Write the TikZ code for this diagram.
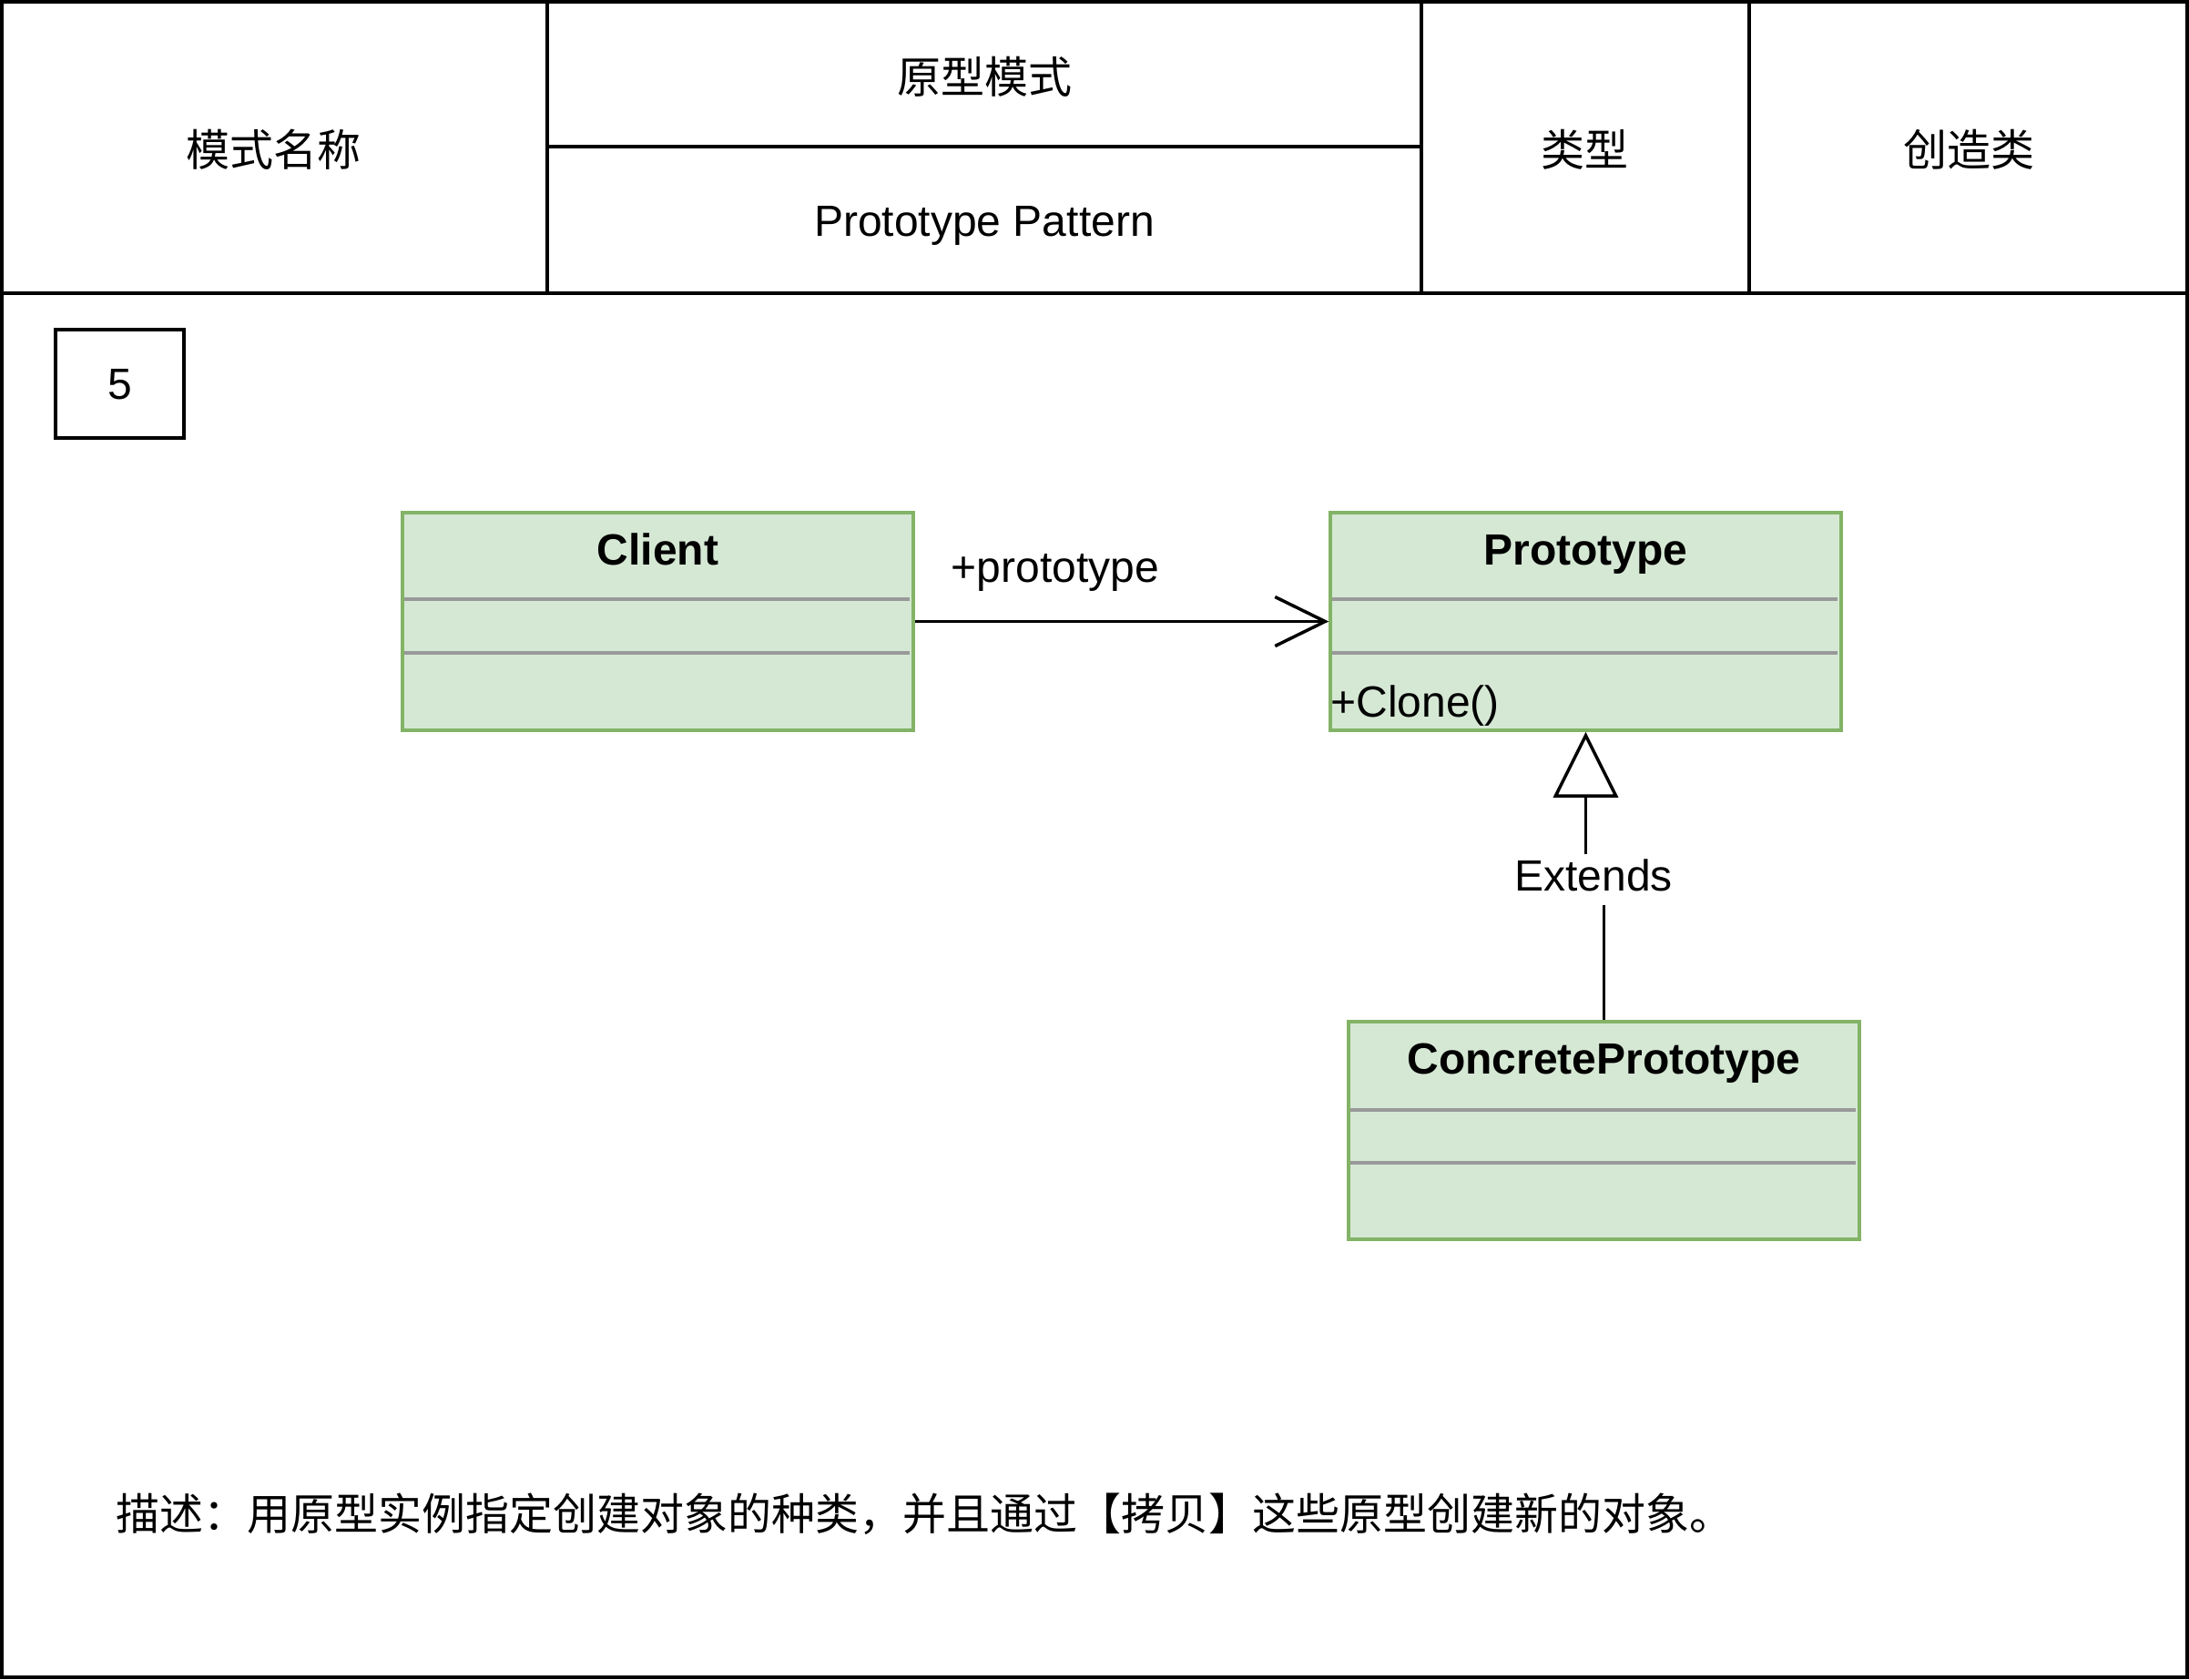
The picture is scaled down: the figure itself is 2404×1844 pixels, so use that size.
\documentclass[tikz,border=0pt]{standalone}
\usepackage{fontspec}
\setmainfont{Liberation Sans}
\newfontfamily\cjk{Noto Sans CJK SC}
\usetikzlibrary{arrows.meta}
\definecolor{clsfill}{HTML}{D5E8D4}
\definecolor{clsline}{HTML}{82B366}
\definecolor{divline}{HTML}{999999}
\begin{document}
\begin{tikzpicture}[x=0.5pt,y=-0.5pt,
  every node/.style={font=\fontsize{24}{28}\selectfont, inner sep=0pt},
  lat/.style={text height=17pt, text depth=5pt},
  cjktext/.style={font=\fontsize{24}{28}\selectfont\cjk},
  boldtext/.style={font=\fontsize{24}{28}\selectfont\bfseries, text height=17pt, text depth=5pt},
  classbox/.style={draw=clsline, fill=clsfill, line width=1.75pt, minimum width=280.5pt, minimum height=119.5pt},
  divider/.style={draw=divline, line width=1.75pt},
  frame/.style={line width=2pt},
  conn/.style={line width=1.75pt},
  ]
\useasboundingbox (0,0) rectangle (2404,1844);
% outer frame and header
\draw[frame] (2,2) rectangle (2402,1842);
\draw[frame] (0,322) -- (2404,322);
\draw[frame] (601,0) -- (601,322);
\draw[frame] (1561,0) -- (1561,322);
\draw[frame] (1921,0) -- (1921,322);
\draw[frame] (601,161) -- (1561,161);
\node[cjktext] (hname) at (300,164) {模式名称};
\node[cjktext] (hcn) at (1081,84) {原型模式};
\node[lat] (hen) at (1081,247) {Prototype Pattern};
\node[cjktext] (htype) at (1740,164) {类型};
\node[cjktext] (hkind) at (2162,164) {创造类};
% number box
\node[draw, line width=2pt, minimum width=70.5pt, minimum height=59.5pt] (num) at (131.5,421.5) {};
\node[lat] (numtext) at (131.5,426) {5};
% Client
\node[classbox] (client) at (722.5,682.5) {};
\node[boldtext] (clientname) at (722.5,608) {Client};
\draw[divider] (444,658) -- (999,658);
\draw[divider] (444,717) -- (999,717);
% Prototype
\node[classbox] (proto) at (1741.5,682.5) {};
\node[boldtext] (protoname) at (1741.5,608) {Prototype};
\draw[divider] (1463,658) -- (2018,658);
\draw[divider] (1463,717) -- (2018,717);
\node[lat, anchor=west] (clone) at (1461,775) {+Clone()};
% ConcretePrototype
\node[classbox] (concrete) at (1761.5,1241.5) {};
\node[boldtext] (concretename) at (1761.5,1167) {ConcretePrototype};
\draw[divider] (1483,1219) -- (2038,1219);
\draw[divider] (1483,1277) -- (2038,1277);
% association
\draw[conn, -{Straight Barb[length=27.5pt,width=27pt]}] (client.east) -- (proto.west);
\node[lat] (assoclabel) at (1159,627) {+prototype};
% generalization
\coordinate (jog) at (0,964);
\draw[conn, -{Triangle[open,length=36pt,width=35.5pt,fill=white]}] (concrete.north) -- (concrete.north |- jog) -- (proto.south |- jog) -- (proto.south);
\node[lat, fill=white, inner xsep=2pt, inner ysep=3pt] (extlabel) at (1750,966) {Extends};
% description
\node[cjktext, anchor=west] (desc) at (127,1663) {描述：用原型实例指定创建对象的种类，并且通过【拷贝】这些原型创建新的对象。};
\end{tikzpicture}
\end{document}
